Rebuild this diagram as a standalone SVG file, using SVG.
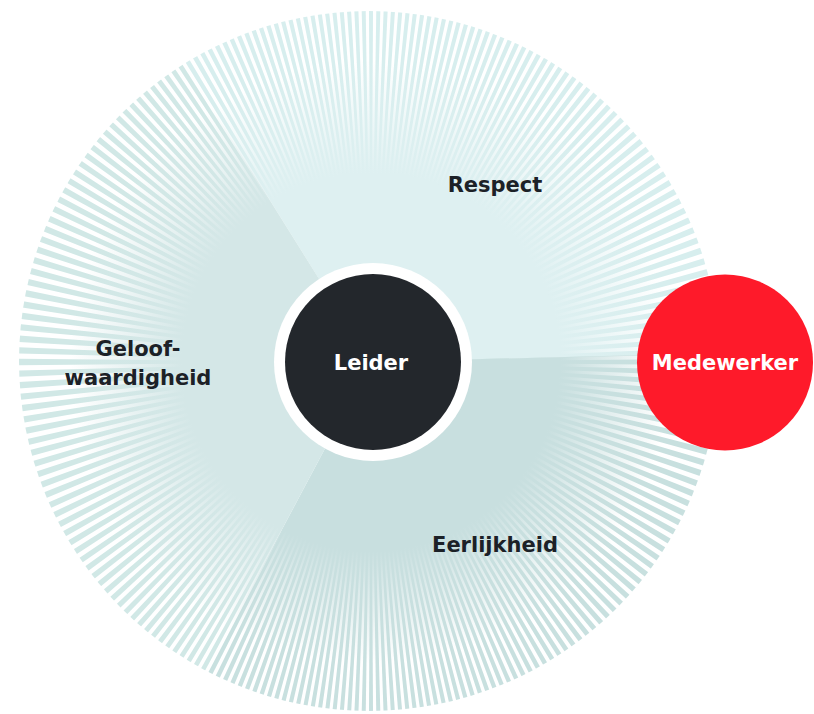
<svg xmlns="http://www.w3.org/2000/svg" xmlns:xlink="http://www.w3.org/1999/xlink" width="814" height="714" viewBox="0 0 814 714">
<style>
  .lbl{font-family:"DejaVu Sans","Liberation Sans",sans-serif;font-weight:bold;font-size:21px;text-anchor:middle;fill:#1c2127}
  .inv{fill:#ffffff}
</style>
<defs>
  <path id="w" d="M0,0 L400,-2.9 L400,2.9 Z"/>
  <g id="b">
    <use href="#w"/>
    <use href="#w" transform="rotate(1.5)"/>
    <use href="#w" transform="rotate(3)"/>
    <use href="#w" transform="rotate(4.5)"/>
    <use href="#w" transform="rotate(6)"/>
    <use href="#w" transform="rotate(7.5)"/>
    <use href="#w" transform="rotate(9)"/>
    <use href="#w" transform="rotate(10.5)"/>
    <use href="#w" transform="rotate(12)"/>
    <use href="#w" transform="rotate(13.5)"/>
    <use href="#w" transform="rotate(15)"/>
    <use href="#w" transform="rotate(16.5)"/>
    <use href="#w" transform="rotate(18)"/>
    <use href="#w" transform="rotate(19.5)"/>
    <use href="#w" transform="rotate(21)"/>
  </g>
  <g id="rays">
    <use href="#b"/>
    <use href="#b" transform="rotate(22.5)"/>
    <use href="#b" transform="rotate(45)"/>
    <use href="#b" transform="rotate(67.5)"/>
    <use href="#b" transform="rotate(90)"/>
    <use href="#b" transform="rotate(112.5)"/>
    <use href="#b" transform="rotate(135)"/>
    <use href="#b" transform="rotate(157.5)"/>
    <use href="#b" transform="rotate(180)"/>
    <use href="#b" transform="rotate(202.5)"/>
    <use href="#b" transform="rotate(225)"/>
    <use href="#b" transform="rotate(247.5)"/>
    <use href="#b" transform="rotate(270)"/>
    <use href="#b" transform="rotate(292.5)"/>
    <use href="#b" transform="rotate(315)"/>
    <use href="#b" transform="rotate(337.5)"/>
  </g>
  <clipPath id="disc"><circle cx="369" cy="361" r="350"/></clipPath>
  <clipPath id="cR"><polygon points="371,362 53.1,-146.8 655,-166.5 970.8,346.3"/></clipPath>
  <clipPath id="cE"><polygon points="371,362 970.8,346.3 686.7,872.2 89.3,891.8"/></clipPath>
  <clipPath id="cG"><polygon points="371,362 89.3,891.8 -228.6,382.9 53.1,-146.8"/></clipPath>
  <radialGradient id="gR" gradientUnits="userSpaceOnUse" cx="371" cy="362" r="350">
    <stop offset="0" stop-color="#def0f1"/>
    <stop offset="0.54" stop-color="#def0f1"/>
    <stop offset="0.86" stop-color="#def0f1" stop-opacity="0"/>
  </radialGradient>
  <radialGradient id="gE" gradientUnits="userSpaceOnUse" cx="371" cy="362" r="350">
    <stop offset="0" stop-color="#c8dfdf"/>
    <stop offset="0.54" stop-color="#c8dfdf"/>
    <stop offset="0.86" stop-color="#c8dfdf" stop-opacity="0"/>
  </radialGradient>
  <radialGradient id="gG" gradientUnits="userSpaceOnUse" cx="371" cy="362" r="350">
    <stop offset="0" stop-color="#d4e7e7"/>
    <stop offset="0.54" stop-color="#d4e7e7"/>
    <stop offset="0.86" stop-color="#d4e7e7" stop-opacity="0"/>
  </radialGradient>
</defs>
<rect width="814" height="714" fill="#ffffff"/>
<g id="sunburst" clip-path="url(#disc)">
  <g id="sector-respect">
    <g clip-path="url(#cR)"><use href="#rays" transform="translate(371,362) scale(0.89,1.12)" fill="#d7eeee"/></g>
    <polygon points="371,362 53.1,-146.8 655,-166.5 970.8,346.3" fill="url(#gR)"/>
  </g>
  <g id="sector-eerlijkheid">
    <g clip-path="url(#cE)"><use href="#rays" transform="translate(371,362) scale(0.89,1.12)" fill="#c8e0df"/></g>
    <polygon points="371,362 970.8,346.3 686.7,872.2 89.3,891.8" fill="url(#gE)"/>
  </g>
  <g id="sector-geloofwaardigheid">
    <g clip-path="url(#cG)"><use href="#rays" transform="translate(371,362) scale(0.89,1.12)" fill="#d1e8e6"/></g>
    <polygon points="371,362 89.3,891.8 -228.6,382.9 53.1,-146.8" fill="url(#gG)"/>
  </g>
</g>
<g id="connectors"/>
<g id="node-respect"><text class="lbl" x="495" y="192">Respect</text></g>
<g id="node-geloofwaardigheid"><text class="lbl" x="138" y="356">Geloof-</text><text class="lbl" x="138" y="385">waardigheid</text></g>
<g id="node-eerlijkheid"><text class="lbl" x="495" y="552">Eerlijkheid</text></g>
<g id="node-leider">
  <circle cx="373" cy="362" r="99" fill="#ffffff"/>
  <circle cx="373" cy="362" r="88" fill="#23272c"/>
  <text class="lbl inv" x="371" y="370">Leider</text>
</g>
<g id="node-medewerker">
  <circle cx="725" cy="362.5" r="88" fill="#fe1a2a"/>
  <text class="lbl inv" x="725" y="370">Medewerker</text>
</g>
</svg>
